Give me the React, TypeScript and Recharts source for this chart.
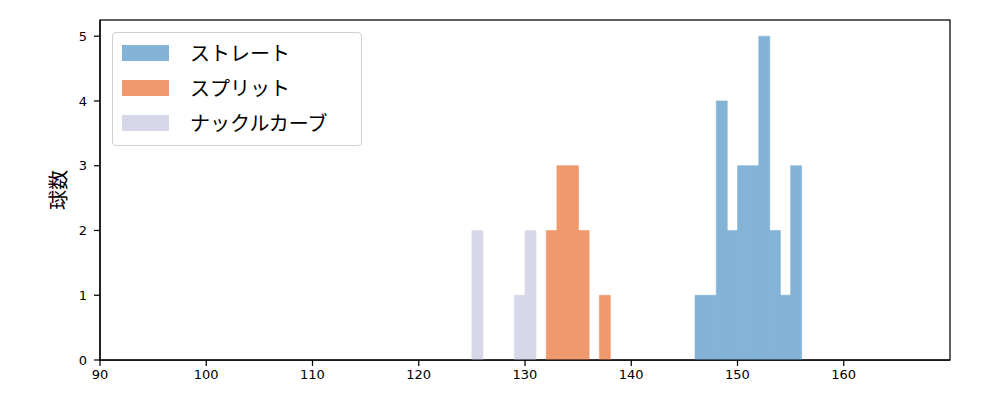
import React from 'react';
import { ComposedChart, Bar, XAxis, YAxis, Legend, usePlotArea } from 'recharts';

const binFirst = 90;
const binCount = 80;

const straightBins = [146, 147, 148, 149, 150, 151, 152, 153, 154, 155];
const straightCounts = [1, 1, 4, 2, 3, 3, 5, 2, 1, 3];

const splitBins = [132, 133, 134, 135, 136, 137];
const splitCounts = [2, 3, 3, 2, 0, 1];

const knuckleBins = [125, 126, 127, 128, 129, 130];
const knuckleCounts = [2, 0, 0, 0, 1, 2];

const xTicks = [90, 100, 110, 120, 130, 140, 150, 160];
const yTicks = [0, 1, 2, 3, 4, 5];

const seriesNames = ['ストレート', 'スプリット', 'ナックルカーブ'];
const seriesColors = ['#83b4d7', '#f0996e', '#d7d7ea'];

const lookup = (bins: number[], counts: number[], b: number) => {
  const i = bins.indexOf(b);
  return i >= 0 ? counts[i] : 0;
};

const data = Array.from({ length: binCount }, (_, i) => {
  const b = binFirst + i;
  return {
    x: b + 0.5,
    straight: lookup(straightBins, straightCounts, b),
    split: lookup(splitBins, splitCounts, b),
    knuckle: lookup(knuckleBins, knuckleCounts, b),
  };
});

const FONT = '"DejaVu Sans", "Noto Sans CJK JP", sans-serif';

const Frame = () => {
  const area = usePlotArea();
  if (!area) return null;
  return (
    <rect
      x={area.x}
      y={area.y}
      width={area.width}
      height={area.height}
      fill="none"
      stroke="#000"
      strokeWidth={1.25}
    />
  );
};

const LegendBox = () => (
  <div
    style={{
      width: 248,
      height: 112,
      border: '1px solid #d0d0d0',
      borderRadius: 4,
      background: 'rgba(255,255,255,0.8)',
      boxSizing: 'content-box',
      fontFamily: '"Noto Sans CJK JP", sans-serif',
      fontSize: 20,
      color: '#000',
      position: 'relative',
      textAlign: 'left',
    }}
  >
    {seriesNames.map((n, i) => (
      <div
        key={n}
        style={{ position: 'absolute', left: 0, top: 2 + i * 35, height: 35, display: 'flex', alignItems: 'center' }}
      >
        <div style={{ width: 47, height: 16, marginLeft: 9, background: seriesColors[i] }} />
        <span style={{ marginLeft: 21, lineHeight: '20px', whiteSpace: 'nowrap' }}>{n}</span>
      </div>
    ))}
  </div>
);

const YLabel = (props: any) => {
  const vb = props.viewBox || { x: 0, y: 20, width: 100, height: 340 };
  const cx = vb.x + 57;
  const cy = vb.y + vb.height / 2;
  return (
    <text
      x={cx}
      y={cy}
      transform={`rotate(-90, ${cx}, ${cy})`}
      textAnchor="middle"
      dominantBaseline="central"
      fontSize={20}
      fontFamily={'"Noto Sans CJK JP", sans-serif'}
      fill="#000"
    >
      球数
    </text>
  );
};

export default function App() {
  return (
    <div style={{ position: 'absolute', left: 0, top: 0, width: 1000, height: 400, background: '#fff' }}>
      <ComposedChart
        width={1000}
        height={400}
        data={data}
        margin={{ top: 20, right: 50, bottom: 0, left: 0 }}
        barCategoryGap={0}
        barGap={0}
      >
        <XAxis
          dataKey="x"
          type="number"
          domain={[90, 170]}
          ticks={xTicks}
          allowDataOverflow
          height={40}
          tickSize={6}
          tickMargin={4}
          stroke="#000"
          strokeWidth={1.25}
          tick={{ fill: '#000', fontSize: 13, fontFamily: FONT }}
        />
        <YAxis
          type="number"
          domain={[0, 5.25]}
          ticks={yTicks}
          allowDataOverflow
          width={100}
          tickSize={6}
          tickMargin={7}
          stroke="#000"
          strokeWidth={1.25}
          tick={{ fill: '#000', fontSize: 13, fontFamily: FONT }}
          label={<YLabel />}
        />
        <Bar dataKey="straight" stackId="s" fill={seriesColors[0]} stroke={seriesColors[0]} strokeWidth={0.6} isAnimationActive={false} />
        <Bar dataKey="split" stackId="s" fill={seriesColors[1]} stroke={seriesColors[1]} strokeWidth={0.6} isAnimationActive={false} />
        <Bar dataKey="knuckle" stackId="s" fill={seriesColors[2]} stroke={seriesColors[2]} strokeWidth={0.6} isAnimationActive={false} />
        <Frame />
        <Legend
          layout="horizontal"
          align="center"
          verticalAlign="middle"
          wrapperStyle={{ left: 112, top: 32, width: 'auto', height: 'auto' }}
          content={<LegendBox />}
        />
      </ComposedChart>
    </div>
  );
}
